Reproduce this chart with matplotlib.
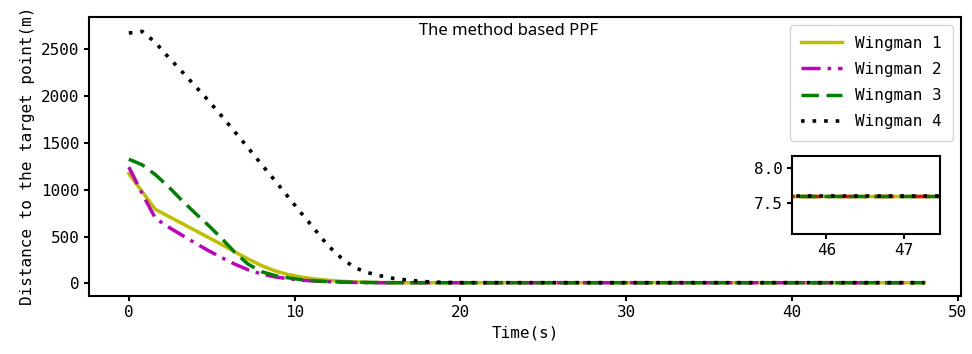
import matplotlib
matplotlib.use('Agg')
import matplotlib.pyplot as plt

# time samples (s)
t = [0, 0.8, 1.6, 2.4, 3.2, 4.0, 4.8, 5.6, 6.4, 7.2, 8.0, 8.8, 9.6, 10.4,
     11.2, 12.0, 12.8, 13.6, 14.4, 15.2, 16.0, 16.8, 17.6, 18.4, 19.2, 20.0,
     24, 28, 32, 36, 40, 44, 48]

# distance to the target point (m)
wingman1 = [1170, 980, 790, 715, 640, 565, 490, 415, 335, 260, 190, 135, 95, 68,
            48, 34, 23, 16, 11, 8, 7.6, 7.6, 7.6, 7.6, 7.6, 7.6,
            7.6, 7.6, 7.6, 7.6, 7.6, 7.6, 7.6]
wingman2 = [1240, 960, 695, 600, 515, 430, 350, 275, 205, 145, 100, 70, 50, 35,
            25, 18, 13, 10, 8.5, 7.6, 7.6, 7.6, 7.6, 7.6, 7.6, 7.6,
            7.6, 7.6, 7.6, 7.6, 7.6, 7.6, 7.6]
wingman3 = [1325, 1265, 1160, 1030, 885, 750, 620, 480, 330, 205, 125, 85, 60, 40,
            28, 20, 15, 12, 10, 8.5, 7.6, 7.6, 7.6, 7.6, 7.6, 7.6,
            7.6, 7.6, 7.6, 7.6, 7.6, 7.6, 7.6]
wingman4 = [2670, 2688, 2570, 2410, 2260, 2105, 1950, 1785, 1615, 1445, 1270, 1100, 925, 750,
            580, 405, 275, 170, 115, 80, 52, 36, 22, 14, 10, 7.6,
            7.6, 7.6, 7.6, 7.6, 7.6, 7.6, 7.6]

labels = ['Wingman 1', 'Wingman 2', 'Wingman 3', 'Wingman 4']

plt.rcParams['font.family'] = ['DejaVu Sans Mono']
plt.rcParams['font.size'] = 11.5
plt.rcParams['axes.linewidth'] = 1.5
plt.rcParams['xtick.major.width'] = 1.5
plt.rcParams['ytick.major.width'] = 1.5

fig = plt.figure(figsize=(9.72, 3.54), dpi=100)
ax = fig.add_axes([0.0916, 0.165, 0.8971, 0.788])

# line styles shared by the main plot and the inset
styles = [dict(color='y', linestyle='-', lw=2.5),
          dict(color='m', linestyle=(0, (5.5, 2, 1, 2)), lw=2.5),
          dict(color='g', linestyle=(0, (5, 2.2)), lw=2.5),
          dict(color='k', linestyle=(0, (1, 2.2)), lw=2.6)]
series = [wingman1, wingman2, wingman3, wingman4]

for y, st, lab in zip(series, styles, labels):
    ax.plot(t, y, label=lab, **st)

ax.set_xlim(-2.4, 50.2)
ax.set_ylim(-130, 2845)
ax.set_xlabel('Time(s)')
ax.set_ylabel('Distance to the target point(m)')
ax.text(22.9, 2690, 'The method based PPF', ha='center', va='center',
        fontsize=12, family='Noto Sans')
ax.legend(loc='upper right', handlelength=2.6, labelspacing=0.7, borderpad=0.7)

# zoomed view of the tail
axins = fig.add_axes([0.815, 0.340, 0.152, 0.220])
inset_colors = ['y', 'r', 'g', 'k']
for y, st, c in zip(series, styles, inset_colors):
    st = dict(st)
    st['color'] = c
    axins.plot(t, y, **st)
axins.set_xlim(45.56, 47.46)
axins.set_ylim(7.05, 8.18)
axins.set_xticks([46, 47])
axins.set_yticks([7.5, 8.0])

plt.savefig('out.png', dpi=100)
